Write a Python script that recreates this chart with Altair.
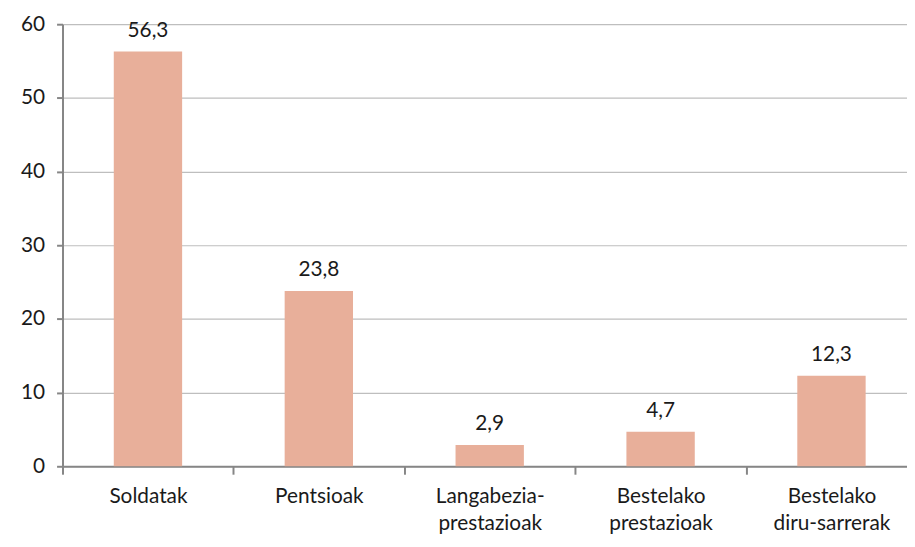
import altair as alt
import pandas as pd

categories = ["Soldatak", "Pentsioak", "Langabezia-\nprestazioak", "Bestelako\nprestazioak", "Bestelako\ndiru-sarrerak"]
values = [56.3, 23.8, 2.9, 4.7, 12.3]
value_labels = ["56,3", "23,8", "2,9", "4,7", "12,3"]

df = pd.DataFrame({"cat": categories, "val": values, "lab": value_labels})

FONT = "Lato"
FS = 21

x = alt.X("cat:N", sort=categories,
          scale=alt.Scale(paddingInner=0, paddingOuter=0, range=[0, 862]),
          axis=alt.Axis(title=None, labelAngle=0, labelExpr="split(datum.label, '\\n')",
                        labelFont=FONT, labelFontSize=FS, labelColor="#1a1a1a",
                        labelLineHeight=27, labelPadding=12, labelBaseline="top",
                        tickBand="extent", tickSize=8, tickColor="#868686", tickWidth=2,
                        domainColor="#868686", domainWidth=2, grid=False))
y = alt.Y("val:Q", scale=alt.Scale(domain=[0, 60], nice=False),
          axis=alt.Axis(title=None, values=[0, 10, 20, 30, 40, 50, 60],
                        labelFont=FONT, labelFontSize=FS, labelColor="#1a1a1a", labelPadding=12,
                        tickSize=6, tickColor="#868686", tickWidth=2,
                        domainColor="#868686", domainWidth=2,
                        grid=True, gridColor="#BEBEBE", gridWidth=1.2))

bars = alt.Chart(df).mark_bar(color="#E8AF9A", width=alt.RelativeBandSize(0.40)).encode(x=x, y=y)
text = alt.Chart(df).mark_text(dy=-11, baseline="bottom", font=FONT, fontSize=FS, color="#1a1a1a").encode(
    x=alt.X("cat:N", sort=categories), y="val:Q", text="lab:N")

chart = (bars + text).properties(
    width=852, height=446,
    autosize=alt.AutoSizeParams(type="none"),
    padding={"left": 55, "top": 14, "right": 0, "bottom": 70},
).configure_view(stroke=None)

chart.save("out.html", embed_options={"renderer": "svg", "actions": False})
